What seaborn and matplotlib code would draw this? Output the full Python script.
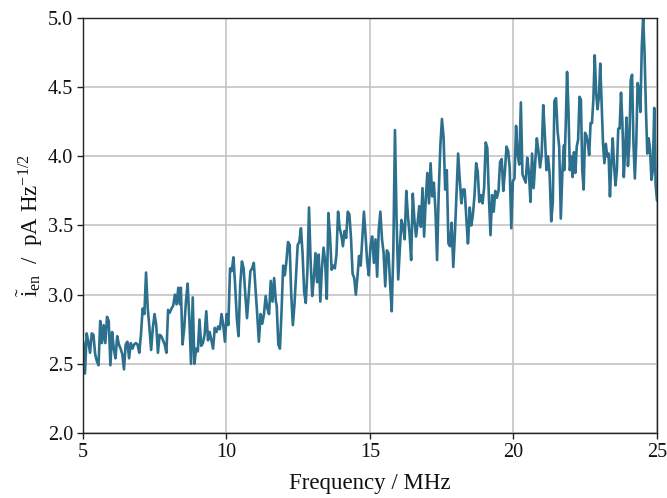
import numpy as np
import pandas as pd
import matplotlib
matplotlib.use("Agg")
import matplotlib.pyplot as plt
import seaborn as sns

# Input-referred current noise density, read band by band (MHz ranges below)
band_edges = [(5.01, 8.38), (8.41, 11.72), (11.75, 15.07),
              (15.08, 18.41), (18.42, 21.76), (21.77, 25.0)]

noise_5_8 = [2.66, 2.43, 2.72, 2.66, 2.58, 2.72, 2.71, 2.57, 2.52, 2.49,
             2.81, 2.65, 2.78, 2.65, 2.84, 2.81, 2.49, 2.73, 2.61, 2.54,
             2.70, 2.64, 2.61, 2.57, 2.46, 2.64, 2.66, 2.54, 2.65, 2.61,
             2.64, 2.65, 2.64, 2.58, 2.71, 2.90, 2.86, 3.16, 2.90, 2.76,
             2.60, 2.76, 2.86, 2.78, 2.58, 2.71, 2.70, 2.67, 2.64, 2.58,
             2.89, 2.87, 2.90, 2.92, 3.00, 2.93, 3.05, 2.93]

noise_8_12 = [3.05, 2.64, 2.76, 2.95, 3.08, 2.83, 2.50, 2.98, 2.50, 2.61,
              2.59, 2.82, 2.63, 2.65, 2.71, 2.88, 2.67, 2.73, 2.67, 2.61,
              2.76, 2.73, 2.77, 2.75, 2.86, 2.78, 2.66, 2.86, 2.78, 3.19,
              3.17, 3.27, 3.07, 2.83, 2.70, 3.07, 3.24, 3.19, 3.00, 2.83,
              3.00, 3.17, 3.19, 3.23, 3.05, 2.86, 2.66, 2.86, 2.79, 2.86,
              2.99, 2.90, 2.86, 3.10, 2.95, 3.12, 2.95]

noise_12_15 = [2.92, 2.64, 2.61, 2.88, 3.21, 3.14, 3.24, 3.38, 3.36, 3.00,
               2.78, 2.93, 3.15, 3.36, 3.38, 3.48, 3.30, 3.02, 2.94, 3.17,
               3.63, 3.24, 2.99, 3.12, 3.30, 3.09, 3.29, 2.95, 3.19, 3.34,
               3.24, 2.97, 3.59, 3.43, 3.18, 3.21, 3.19, 3.29, 3.60, 3.48,
               3.43, 3.35, 3.46, 3.41, 3.60, 3.58, 3.41, 3.15, 3.12, 3.00,
               3.13, 3.28, 3.21, 3.41, 3.60, 3.43, 3.24, 3.14, 3.34, 3.42]

noise_15_18 = [3.42, 3.23, 3.40, 3.13, 3.47, 3.60, 3.40, 3.30, 3.06, 3.32,
               3.30, 3.08, 2.88, 3.32, 4.19, 3.54, 3.11, 3.32, 3.54, 3.49,
               3.40, 3.75, 3.57, 3.44, 3.25, 3.73, 3.54, 3.42, 3.52, 3.64,
               3.49, 3.77, 3.42, 3.69, 3.88, 3.66, 3.95, 3.71, 3.81, 3.61,
               3.25, 3.73, 4.07, 4.27, 4.14, 3.76, 3.90, 3.37, 3.35, 3.52,
               3.20, 3.44, 3.73, 4.02, 3.83, 3.66, 3.76, 3.76, 3.57, 3.37]

noise_18_22 = [3.38, 3.63, 3.50, 3.58, 3.72, 3.95, 3.89, 3.67, 3.72, 3.66,
               3.77, 4.10, 4.06, 3.70, 3.43, 3.72, 3.60, 3.75, 3.70, 3.75,
               3.96, 3.98, 3.75, 3.89, 4.07, 4.04, 3.92, 3.48, 3.82, 3.84,
               4.22, 4.01, 3.94, 4.39, 3.87, 3.84, 3.81, 3.99, 3.89, 3.67,
               4.02, 3.77, 3.96, 4.13, 4.04, 3.92, 4.01, 4.37, 4.16, 3.90,
               4.00, 3.87, 3.53, 3.67, 4.40, 4.42, 4.18, 4.07, 3.55, 3.89,
               4.08]

noise_22_25 = [3.90, 4.21, 4.61, 4.34, 3.90, 4.00, 3.85, 4.03, 3.88, 4.07,
               4.12, 4.43, 4.41, 3.90, 3.76, 4.17, 4.15, 4.09, 4.01, 4.24,
               4.24, 4.41, 4.73, 4.46, 4.34, 4.43, 4.67, 4.38, 4.09, 3.95,
               4.09, 4.00, 4.02, 3.71, 3.95, 4.13, 3.93, 3.79, 3.90, 4.20,
               4.20, 4.46, 4.24, 3.85, 4.05, 4.28, 3.93, 4.09, 4.55, 4.59,
               4.09, 3.84, 4.09, 4.53, 4.48, 4.32, 4.79, 5.01, 4.75, 4.34,
               4.02, 4.13, 4.05, 3.83, 3.90, 4.35, 3.80, 3.68]

bands = [noise_5_8, noise_8_12, noise_12_15, noise_15_18, noise_18_22, noise_22_25]

x_ticks = [5, 10, 15, 20, 25]
y_ticks = [2.0, 2.5, 3.0, 3.5, 4.0, 4.5, 5.0]

# Build the sweep table: each band sampled on an evenly spaced frequency grid
freq = np.concatenate([np.linspace(a, b, len(v)) for (a, b), v in zip(band_edges, bands)])
noise = np.concatenate([np.asarray(v, dtype=float) for v in bands])
df = pd.DataFrame({"freq": freq, "noise": noise})

sns.set_theme(style="whitegrid")
plt.rcParams["font.family"] = ["Liberation Serif", "DejaVu Serif"]
plt.rcParams["mathtext.fontset"] = "custom"
plt.rcParams["mathtext.rm"] = "Liberation Serif"
plt.rcParams["mathtext.it"] = "Liberation Serif:italic"
plt.rcParams["mathtext.bf"] = "Liberation Serif:bold"

fig = plt.figure(figsize=(6.67, 4.98), dpi=100)
ax = fig.add_axes([0.1244, 0.1305, 0.8606, 0.8334])

sns.lineplot(data=df, x="freq", y="noise", ax=ax, color="#2d708e",
             linewidth=1.9, estimator=None, sort=False)

ax.set_xlim(5, 25)
ax.set_ylim(2.0, 5.0)
ax.set_xticks(x_ticks)
ax.set_yticks(y_ticks)
ax.set_xticklabels([str(t) for t in x_ticks])
ax.set_yticklabels([f"{t:.1f}" for t in y_ticks])

ax.grid(True, color="#c0c0c0", linewidth=1.1)
for side in ["left", "right", "top", "bottom"]:
    ax.spines[side].set_visible(True)
    ax.spines[side].set_color("#222222")
    ax.spines[side].set_linewidth(1.0)

ax.tick_params(axis="both", which="major", direction="out", length=4, width=1,
               color="#222222", labelsize=14.5, labelcolor="#111111",
               bottom=True, left=True, pad=3)

ax.set_xlabel("Frequency / MHz", fontsize=16.5, color="#111111", labelpad=8)
ax.set_ylabel(r"$\tilde{\mathrm{i}}_{\mathrm{en}}$  /  pA Hz$^{-1/2}$",
              fontsize=16.5, color="#111111", labelpad=2)

fig.savefig("out.png", dpi=100, facecolor="white")
